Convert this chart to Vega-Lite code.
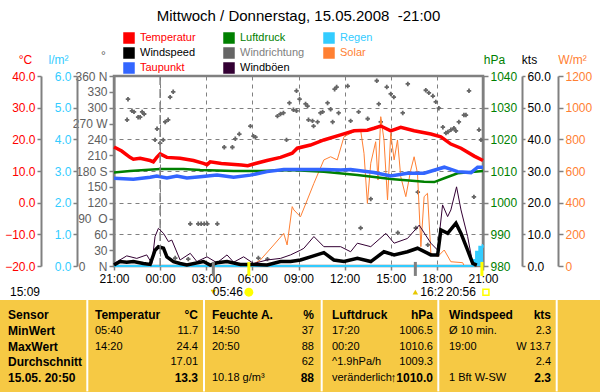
{
"$schema": "https://vega.github.io/schema/vega-lite/v6.json",
"width": 369, "height": 190,
"autosize": {"type": "none"},
"padding": {"left": 114, "top": 76, "right": 117, "bottom": 126},
"background": "#FFFFFF",
"title": {"text": "Mittwoch / Donnerstag, 15.05.2008\u00a0\u00a0-21:00", "anchor": "middle", "frame": "group", "fontSize": 15, "fontWeight": "normal", "font": "Liberation Sans", "offset": 8, "color": "#000000"},
"config": {
  "font": "Liberation Sans",
  "view": {"stroke": "#808080", "strokeWidth": 2.5},
  "axis": {"labelFont": "Liberation Sans", "labelFontSize": 12, "titleFont": "Liberation Sans", "titleFontSize": 12, "titleFontWeight": "normal", "domainColor": "#808080", "domainWidth": 2, "tickColor": "#808080", "tickWidth": 1.5, "grid": false, "labelFlush": false, "labelOverlap": false}
},
"datasets": {
  "series": [
    {"s":"Temperatur","h":0,"v":17.6},{"s":"Temperatur","h":0.5,"v":16.3},{"s":"Temperatur","h":1.04,"v":14.3},{"s":"Temperatur","h":1.26,"v":13.7},{"s":"Temperatur","h":1.7,"v":14.0},{"s":"Temperatur","h":2.35,"v":13.3},{"s":"Temperatur","h":2.56,"v":12.9},{"s":"Temperatur","h":2.78,"v":14.3},{"s":"Temperatur","h":3.0,"v":15.4},{"s":"Temperatur","h":3.44,"v":14.3},{"s":"Temperatur","h":4.3,"v":14.0},{"s":"Temperatur","h":5.17,"v":13.3},{"s":"Temperatur","h":5.82,"v":12.4},{"s":"Temperatur","h":6.05,"v":12.0},{"s":"Temperatur","h":6.26,"v":12.9},{"s":"Temperatur","h":6.98,"v":12.4},{"s":"Temperatur","h":8.28,"v":11.9},{"s":"Temperatur","h":8.7,"v":11.7},{"s":"Temperatur","h":9.08,"v":12.2},{"s":"Temperatur","h":9.95,"v":13.3},{"s":"Temperatur","h":10.83,"v":14.3},{"s":"Temperatur","h":11.59,"v":15.6},{"s":"Temperatur","h":11.92,"v":17.2},{"s":"Temperatur","h":12.78,"v":18.2},{"s":"Temperatur","h":13.65,"v":19.8},{"s":"Temperatur","h":14.74,"v":21.4},{"s":"Temperatur","h":15.61,"v":22.7},{"s":"Temperatur","h":16.48,"v":22.9},{"s":"Temperatur","h":16.91,"v":23.5},{"s":"Temperatur","h":17.35,"v":24.2},{"s":"Temperatur","h":18.0,"v":22.7},{"s":"Temperatur","h":18.65,"v":23.8},{"s":"Temperatur","h":19.52,"v":22.7},{"s":"Temperatur","h":20.61,"v":21.7},{"s":"Temperatur","h":21.26,"v":20.8},{"s":"Temperatur","h":21.91,"v":18.5},{"s":"Temperatur","h":22.57,"v":17.2},{"s":"Temperatur","h":23.43,"v":14.7},{"s":"Temperatur","h":24,"v":13.3},
    {"s":"Taupunkt","h":0,"v":7.7},{"s":"Taupunkt","h":1.26,"v":7.4},{"s":"Taupunkt","h":2.35,"v":8.0},{"s":"Taupunkt","h":2.78,"v":8.4},{"s":"Taupunkt","h":3.44,"v":7.8},{"s":"Taupunkt","h":4.09,"v":8.4},{"s":"Taupunkt","h":4.74,"v":7.8},{"s":"Taupunkt","h":5.61,"v":8.2},{"s":"Taupunkt","h":6.7,"v":8.7},{"s":"Taupunkt","h":7.78,"v":8.0},{"s":"Taupunkt","h":8.87,"v":8.7},{"s":"Taupunkt","h":9.96,"v":9.8},{"s":"Taupunkt","h":11.04,"v":10.5},{"s":"Taupunkt","h":12.13,"v":10.5},{"s":"Taupunkt","h":13.65,"v":10.5},{"s":"Taupunkt","h":14.74,"v":10.3},{"s":"Taupunkt","h":15.39,"v":10.5},{"s":"Taupunkt","h":16.91,"v":9.5},{"s":"Taupunkt","h":18.0,"v":8.4},{"s":"Taupunkt","h":19.09,"v":9.3},{"s":"Taupunkt","h":20.17,"v":9.3},{"s":"Taupunkt","h":21.48,"v":11.2},{"s":"Taupunkt","h":22.35,"v":9.8},{"s":"Taupunkt","h":23.22,"v":9.5},{"s":"Taupunkt","h":23.65,"v":11.2},{"s":"Taupunkt","h":24,"v":11.2},
    {"s":"Luftdruck","h":0,"v":1009.5},{"s":"Luftdruck","h":1.04,"v":1010.0},{"s":"Luftdruck","h":3.0,"v":1010.6},{"s":"Luftdruck","h":4.52,"v":1010.6},{"s":"Luftdruck","h":5.61,"v":1010.3},{"s":"Luftdruck","h":7.78,"v":1010.0},{"s":"Luftdruck","h":9.52,"v":1010.0},{"s":"Luftdruck","h":11.48,"v":1010.3},{"s":"Luftdruck","h":13.65,"v":1009.8},{"s":"Luftdruck","h":15.83,"v":1008.7},{"s":"Luftdruck","h":18.0,"v":1007.5},{"s":"Luftdruck","h":20.17,"v":1006.6},{"s":"Luftdruck","h":20.83,"v":1006.5},{"s":"Luftdruck","h":21.48,"v":1007.7},{"s":"Luftdruck","h":22.35,"v":1009.3},{"s":"Luftdruck","h":24,"v":1010.0},
    {"s":"Windspeed","h":0,"v":0.3},{"s":"Windspeed","h":0.39,"v":1.4},{"s":"Windspeed","h":0.83,"v":1.2},{"s":"Windspeed","h":1.26,"v":1.4},{"s":"Windspeed","h":1.91,"v":0.8},{"s":"Windspeed","h":2.35,"v":0.5},{"s":"Windspeed","h":2.67,"v":5.0},{"s":"Windspeed","h":2.89,"v":6.1},{"s":"Windspeed","h":3.22,"v":5.6},{"s":"Windspeed","h":3.44,"v":2.9},{"s":"Windspeed","h":3.87,"v":1.4},{"s":"Windspeed","h":4.3,"v":0.8},{"s":"Windspeed","h":4.74,"v":0.3},{"s":"Windspeed","h":5.82,"v":1.4},{"s":"Windspeed","h":6.26,"v":0.3},{"s":"Windspeed","h":6.7,"v":1.0},{"s":"Windspeed","h":7.35,"v":1.4},{"s":"Windspeed","h":8.22,"v":0.5},{"s":"Windspeed","h":9.08,"v":0.5},{"s":"Windspeed","h":9.96,"v":0.3},{"s":"Windspeed","h":10.83,"v":1.4},{"s":"Windspeed","h":11.48,"v":1.4},{"s":"Windspeed","h":12.13,"v":1.9},{"s":"Windspeed","h":12.78,"v":2.9},{"s":"Windspeed","h":13.65,"v":4.2},{"s":"Windspeed","h":14.3,"v":1.9},{"s":"Windspeed","h":14.96,"v":1.4},{"s":"Windspeed","h":15.83,"v":2.4},{"s":"Windspeed","h":16.7,"v":1.4},{"s":"Windspeed","h":17.56,"v":4.5},{"s":"Windspeed","h":18.22,"v":3.5},{"s":"Windspeed","h":19.09,"v":4.5},{"s":"Windspeed","h":19.74,"v":5.6},{"s":"Windspeed","h":20.61,"v":3.5},{"s":"Windspeed","h":21.05,"v":3.5},{"s":"Windspeed","h":21.26,"v":11.4},{"s":"Windspeed","h":21.7,"v":10.3},{"s":"Windspeed","h":22.24,"v":13.5},{"s":"Windspeed","h":22.57,"v":10.3},{"s":"Windspeed","h":23.0,"v":5.0},{"s":"Windspeed","h":23.33,"v":0.8},{"s":"Windspeed","h":23.6,"v":0.3},
    {"s":"Windböen","h":0,"v":0.8},{"s":"Windböen","h":0.83,"v":3.2},{"s":"Windböen","h":1.48,"v":2.4},{"s":"Windböen","h":2.13,"v":3.5},{"s":"Windböen","h":2.46,"v":0.8},{"s":"Windböen","h":2.67,"v":9.3},{"s":"Windböen","h":2.89,"v":11.9},{"s":"Windböen","h":3.22,"v":10.3},{"s":"Windböen","h":3.54,"v":7.7},{"s":"Windböen","h":3.76,"v":8.2},{"s":"Windböen","h":4.3,"v":1.9},{"s":"Windböen","h":4.96,"v":4.0},{"s":"Windböen","h":5.39,"v":1.4},{"s":"Windböen","h":6.05,"v":2.9},{"s":"Windböen","h":6.7,"v":1.0},{"s":"Windböen","h":7.35,"v":3.5},{"s":"Windböen","h":7.78,"v":1.2},{"s":"Windböen","h":8.43,"v":2.9},{"s":"Windböen","h":9.08,"v":0.8},{"s":"Windböen","h":9.96,"v":1.9},{"s":"Windböen","h":10.83,"v":2.4},{"s":"Windböen","h":11.48,"v":3.5},{"s":"Windböen","h":12.13,"v":5.0},{"s":"Windböen","h":12.35,"v":5.6},{"s":"Windböen","h":13.0,"v":9.3},{"s":"Windböen","h":13.65,"v":6.1},{"s":"Windböen","h":14.74,"v":6.1},{"s":"Windböen","h":15.39,"v":4.5},{"s":"Windböen","h":15.83,"v":7.2},{"s":"Windböen","h":16.7,"v":6.1},{"s":"Windböen","h":17.68,"v":10.3},{"s":"Windböen","h":18.22,"v":7.2},{"s":"Windböen","h":19.09,"v":8.7},{"s":"Windböen","h":19.85,"v":12.9},{"s":"Windböen","h":20.61,"v":7.2},{"s":"Windböen","h":21.05,"v":5.0},{"s":"Windböen","h":21.37,"v":19.3},{"s":"Windböen","h":21.7,"v":15.6},{"s":"Windböen","h":21.91,"v":17.7},{"s":"Windböen","h":22.28,"v":25.0},{"s":"Windböen","h":22.57,"v":17.7},{"s":"Windböen","h":23.0,"v":9.3},{"s":"Windböen","h":23.33,"v":0.8},
    {"s":"Solar","h":8.87,"v":0},{"s":"Solar","h":9.52,"v":38},{"s":"Solar","h":10.39,"v":133},{"s":"Solar","h":11.04,"v":206},{"s":"Solar","h":11.26,"v":133},{"s":"Solar","h":11.59,"v":375},{"s":"Solar","h":11.7,"v":354},{"s":"Solar","h":12.13,"v":311},{"s":"Solar","h":12.57,"v":417},{"s":"Solar","h":13.0,"v":522},{"s":"Solar","h":13.65,"v":670},{"s":"Solar","h":14.09,"v":690},{"s":"Solar","h":14.52,"v":670},{"s":"Solar","h":14.96,"v":817},{"s":"Solar","h":15.61,"v":848},{"s":"Solar","h":16.04,"v":859},{"s":"Solar","h":16.26,"v":712},{"s":"Solar","h":16.48,"v":396},{"s":"Solar","h":16.7,"v":649},{"s":"Solar","h":17.02,"v":785},{"s":"Solar","h":17.17,"v":543},{"s":"Solar","h":17.35,"v":943},{"s":"Solar","h":17.56,"v":796},{"s":"Solar","h":17.79,"v":417},{"s":"Solar","h":18.0,"v":838},{"s":"Solar","h":18.22,"v":670},{"s":"Solar","h":18.44,"v":796},{"s":"Solar","h":18.65,"v":564},{"s":"Solar","h":18.98,"v":438},{"s":"Solar","h":19.3,"v":606},{"s":"Solar","h":19.52,"v":690},{"s":"Solar","h":19.74,"v":585},{"s":"Solar","h":19.96,"v":122},{"s":"Solar","h":20.17,"v":438},{"s":"Solar","h":20.39,"v":459},{"s":"Solar","h":20.61,"v":80},{"s":"Solar","h":21.05,"v":59},{"s":"Solar","h":21.48,"v":101},{"s":"Solar","h":21.91,"v":27},{"s":"Solar","h":22.68,"v":21},{"s":"Solar","h":22.78,"v":0},
    {"s":"Regen","h":0,"v":0},{"s":"Regen","h":23.3,"v":0},{"s":"Regen","h":23.35,"v":0.19},{"s":"Regen","h":23.55,"v":0.45},{"s":"Regen","h":23.76,"v":0.61},{"s":"Regen","h":23.98,"v":0.66},{"s":"Regen","h":24,"v":0.66}
  ],
  "dir": [
    {"h":0.91,"d":316},{"h":0.85,"d":277},{"h":1.17,"d":294},{"h":1.3,"d":292},{"h":1.57,"d":282},{"h":1.7,"d":282},{"h":1.83,"d":292},{"h":1.96,"d":288},{"h":2.8,"d":260},{"h":2.67,"d":239},{"h":3.0,"d":233},{"h":3.2,"d":239},{"h":3.33,"d":273},{"h":3.52,"d":277},{"h":3.65,"d":320},{"h":3.85,"d":330},{"h":3.98,"d":15},{"h":4.83,"d":13},{"h":4.96,"d":80},{"h":5.48,"d":80},{"h":5.67,"d":80},{"h":5.87,"d":80},{"h":6.07,"d":80},{"h":6.72,"d":80},{"h":7.17,"d":225},{"h":7.7,"d":225},{"h":7.89,"d":241},{"h":8.15,"d":250},{"h":8.87,"d":265},{"h":9.07,"d":246},{"h":9.2,"d":244},{"h":9.39,"d":15},{"h":9.98,"d":13},{"h":10.63,"d":284},{"h":10.83,"d":288},{"h":11.02,"d":290},{"h":11.22,"d":239},{"h":11.41,"d":309},{"h":11.67,"d":296},{"h":11.87,"d":294},{"h":11.87,"d":332},{"h":12.07,"d":316},{"h":12.46,"d":307},{"h":12.59,"d":303},{"h":12.65,"d":277},{"h":12.91,"d":275},{"h":12.98,"d":265},{"h":13.24,"d":273},{"h":13.43,"d":290},{"h":13.57,"d":292},{"h":13.89,"d":309},{"h":14.09,"d":297},{"h":14.22,"d":273},{"h":14.35,"d":335},{"h":14.48,"d":339},{"h":14.61,"d":290},{"h":15.2,"d":341},{"h":15.39,"d":275},{"h":15.91,"d":292},{"h":16.04,"d":72},{"h":16.5,"d":279},{"h":16.7,"d":127},{"h":17.09,"d":351},{"h":17.22,"d":307},{"h":17.35,"d":273},{"h":17.74,"d":339},{"h":18.0,"d":326},{"h":18.2,"d":320},{"h":18.46,"d":63},{"h":18.78,"d":290},{"h":19.11,"d":345},{"h":19.63,"d":72},{"h":19.76,"d":140},{"h":20.28,"d":333},{"h":20.41,"d":40},{"h":20.48,"d":328},{"h":20.74,"d":322},{"h":20.93,"d":311},{"h":21.13,"d":299},{"h":21.39,"d":263},{"h":21.59,"d":252},{"h":21.72,"d":254},{"h":21.91,"d":258},{"h":22.11,"d":261},{"h":22.24,"d":256},{"h":22.43,"d":273},{"h":22.76,"d":286},{"h":22.89,"d":286},{"h":23.09,"d":332},{"h":23.41,"d":131},{"h":23.74,"d":258},{"h":23.87,"d":239}
  ],
  "events": [
    {"ev":"moonset","h":6.46,"label":""},
    {"ev":"sunrise","h":8.77,"label":"05:46"},
    {"ev":"moonrise","h":19.6,"label":"16:2"},
    {"ev":"sunset","h":23.93,"label":"20:56"}
  ],
  "cols": [
    {"c":1},{"c":2},{"c":3},{"c":4},{"c":5}
  ],
  "table": [
    {"c":0,"r":0,"k":"L","t":"Sensor"},{"c":0,"r":1,"k":"L","t":"MinWert"},{"c":0,"r":2,"k":"L","t":"MaxWert"},{"c":0,"r":3,"k":"L","t":"Durchschnitt"},{"c":0,"r":4,"k":"L","t":"15.05. 20:50"},
    {"c":1,"r":0,"k":"L","t":"Temperatur"},{"c":1,"r":1,"k":"L","t":"05:40"},{"c":1,"r":2,"k":"L","t":"14:20"},
    {"c":1,"r":0,"k":"R","t":"°C"},{"c":1,"r":1,"k":"R","t":"11.7"},{"c":1,"r":2,"k":"R","t":"24.4"},{"c":1,"r":3,"k":"R","t":"17.01"},{"c":1,"r":4,"k":"R","t":"13.3"},
    {"c":2,"r":0,"k":"L","t":"Feuchte A."},{"c":2,"r":1,"k":"L","t":"14:50"},{"c":2,"r":2,"k":"L","t":"20:50"},{"c":2,"r":4,"k":"L","t":"10.18 g/m³"},
    {"c":2,"r":0,"k":"R","t":"%"},{"c":2,"r":1,"k":"R","t":"37"},{"c":2,"r":2,"k":"R","t":"88"},{"c":2,"r":3,"k":"R","t":"62"},{"c":2,"r":4,"k":"R","t":"88"},
    {"c":3,"r":0,"k":"L","t":"Luftdruck"},{"c":3,"r":1,"k":"L","t":"17:20"},{"c":3,"r":2,"k":"L","t":"00:20"},{"c":3,"r":3,"k":"L","t":"^1.9hPa/h"},{"c":3,"r":4,"k":"L","t":"veränderlich"},
    {"c":3,"r":0,"k":"R","t":"hPa"},{"c":3,"r":1,"k":"R","t":"1006.5"},{"c":3,"r":2,"k":"R","t":"1010.6"},{"c":3,"r":3,"k":"R","t":"1009.3"},{"c":3,"r":4,"k":"R","t":"↑1010.0"},
    {"c":4,"r":0,"k":"L","t":"Windspeed"},{"c":4,"r":1,"k":"L","t":"Ø 10 min."},{"c":4,"r":2,"k":"L","t":"19:00"},{"c":4,"r":4,"k":"L","t":"1 Bft W-SW"},
    {"c":4,"r":0,"k":"R","t":"kts"},{"c":4,"r":1,"k":"R","t":"2.3"},{"c":4,"r":2,"k":"R","t":"W 13.7"},{"c":4,"r":3,"k":"R","t":"2.4"},{"c":4,"r":4,"k":"R","t":"2.3"}
  ]
},
"resolve": {"scale": {"x": "independent", "y": "independent"}, "axis": {"x": "independent", "y": "independent"}},
"layer": [
  {
    "data": {"name": "dir"},
    "mark": {"type": "point", "shape": "cross", "filled": true, "size": 20, "opacity": 1},
    "encoding": {
      "x": {"field": "h", "type": "quantitative", "scale": {"domain": [0, 24], "nice": false, "zero": false}, "axis": null},
      "y": {"field": "d", "type": "quantitative", "scale": {"domain": [0, 360], "nice": false, "zero": false},
        "axis": {"orient": "left", "offset": 0, "values": [0,30,60,90,120,150,180,210,240,270,300,330,360],
          "labelExpr": "datum.value == 360 ? '360 N' : datum.value == 0 ? '0\u00a0\u00a0\u00a0\u00a0N' : datum.value == 90 ? '90\u00a0\u00a0O' : datum.value == 180 ? '180 S' : datum.value == 270 ? '270 W' : datum.label",
          "labelColor": "#606060", "tickSize": 5, "labelPadding": 2,
          "title": "°", "titleColor": "#606060", "titleAngle": 0, "titleAlign": "center", "titleBaseline": "bottom", "titleX": -11, "titleY": -14}},
      "color": {"datum": "Windrichtung", "type": "nominal"}
    }
  },
  {
    "data": {"name": "series"},
    "transform": [{"filter": "datum.s == 'Solar'"}],
    "mark": {"type": "line", "strokeWidth": 1},
    "encoding": {
      "x": {"field": "h", "type": "quantitative", "scale": {"domain": [0, 24], "nice": false, "zero": false}, "axis": null},
      "y": {"field": "v", "type": "quantitative", "scale": {"domain": [0, 1200], "nice": false, "zero": false},
        "axis": {"orient": "right", "offset": 75, "values": [0,200,400,600,800,1000,1200], "format": "d", "labelColor": "#FF8033", "tickSize": 5, "labelPadding": 2,
          "title": "W/m²", "titleColor": "#FF8033", "titleAngle": 0, "titleAlign": "center", "titleBaseline": "bottom", "titleX": 14, "titleY": -10}},
      "color": {"datum": "Solar", "type": "nominal"}
    }
  },
  {
    "data": {"name": "series"},
    "transform": [{"filter": "datum.s == 'Windböen'"}],
    "mark": {"type": "line", "strokeWidth": 1},
    "encoding": {
      "x": {"field": "h", "type": "quantitative", "scale": {"domain": [0, 24], "nice": false, "zero": false}, "axis": null},
      "y": {"field": "v", "type": "quantitative", "scale": {"domain": [0, 60], "nice": false, "zero": false}, "axis": null},
      "color": {"datum": "Windböen", "type": "nominal"}
    }
  },
  {
    "data": {"name": "series"},
    "transform": [{"filter": "datum.s == 'Regen'"}],
    "mark": {"type": "area", "interpolate": "step-after", "opacity": 1, "line": {"strokeWidth": 2}},
    "encoding": {
      "x": {"field": "h", "type": "quantitative", "scale": {"domain": [0, 24], "nice": false, "zero": false}, "axis": null},
      "y": {"field": "v", "type": "quantitative", "scale": {"domain": [0, 6], "nice": false, "zero": false},
        "axis": {"orient": "left", "offset": 37, "values": [0,1,2,3,4,5,6], "format": ".1f", "labelColor": "#33CCFF", "tickSize": 4, "labelPadding": 2,
          "title": "l/m²", "titleColor": "#33CCFF", "titleAngle": 0, "titleAlign": "center", "titleBaseline": "bottom", "titleX": -19, "titleY": -10}},
      "color": {"datum": "Regen", "type": "nominal"}
    }
  },
  {
    "data": {"name": "series"},
    "transform": [{"filter": "datum.s == 'Windspeed'"}],
    "mark": {"type": "line", "strokeWidth": 3.5},
    "encoding": {
      "x": {"field": "h", "type": "quantitative", "scale": {"domain": [0, 24], "nice": false, "zero": false}, "axis": null},
      "y": {"field": "v", "type": "quantitative", "scale": {"domain": [0, 60], "nice": false, "zero": false},
        "axis": {"orient": "right", "offset": 39, "values": [0,10,20,30,40,50,60], "format": ".1f", "labelColor": "#000000", "tickSize": 3, "labelPadding": 2,
          "title": "kts", "titleColor": "#000000", "titleAngle": 0, "titleAlign": "center", "titleBaseline": "bottom", "titleX": 7, "titleY": -10}},
      "color": {"datum": "Windspeed", "type": "nominal"}
    }
  },
  {
    "data": {"name": "series"},
    "transform": [{"filter": "datum.s == 'Luftdruck'"}],
    "mark": {"type": "line", "strokeWidth": 2.5},
    "encoding": {
      "x": {"field": "h", "type": "quantitative", "scale": {"domain": [0, 24], "nice": false, "zero": false}, "axis": null},
      "y": {"field": "v", "type": "quantitative", "scale": {"domain": [980, 1040], "nice": false, "zero": false},
        "axis": {"orient": "right", "offset": 0, "values": [980,990,1000,1010,1020,1030,1040], "format": "d", "labelColor": "#008000", "tickSize": 5, "labelPadding": 2,
          "grid": true, "gridDash": [4, 4], "gridColor": "#808080", "gridWidth": 1,
          "title": "hPa", "titleColor": "#008000", "titleAngle": 0, "titleAlign": "center", "titleBaseline": "bottom", "titleX": 11, "titleY": -10}},
      "color": {"datum": "Luftdruck", "type": "nominal"}
    }
  },
  {
    "data": {"name": "series"},
    "transform": [{"filter": "datum.s == 'Taupunkt'"}],
    "mark": {"type": "line", "strokeWidth": 3.5},
    "encoding": {
      "x": {"field": "h", "type": "quantitative", "scale": {"domain": [0, 24], "nice": false, "zero": false}, "axis": null},
      "y": {"field": "v", "type": "quantitative", "scale": {"domain": [-20, 40], "nice": false, "zero": false}, "axis": null},
      "color": {"datum": "Taupunkt", "type": "nominal"}
    }
  },
  {
    "data": {"name": "series"},
    "transform": [{"filter": "datum.s == 'Temperatur'"}],
    "mark": {"type": "line", "strokeWidth": 3.5},
    "encoding": {
      "x": {"field": "h", "type": "quantitative", "scale": {"domain": [0, 24], "nice": false, "zero": false},
        "axis": {"orient": "bottom", "values": [0,3,6,9,12,15,18,21,24], "labelExpr": "format((datum.value + 21) % 24, '02d') + ':00'",
          "labelColor": "#000000", "tickSize": 4, "labelPadding": 3, "title": null, "domain": false,
          "grid": true, "gridDash": [4, 4], "gridColor": "#808080", "gridWidth": 1}},
      "y": {"field": "v", "type": "quantitative", "scale": {"domain": [-20, 40], "nice": false, "zero": false},
        "axis": {"orient": "left", "offset": 73, "values": [-20,-10,0,10,20,30,40], "format": ".1f", "labelColor": "#FF0000", "tickSize": 4, "labelPadding": 2,
          "title": "°C", "titleColor": "#FF0000", "titleAngle": 0, "titleAlign": "center", "titleBaseline": "bottom", "titleX": -16, "titleY": -10}},
      "color": {"datum": "Temperatur", "type": "nominal",
        "scale": {"domain": ["Temperatur","Luftdruck","Regen","Windspeed","Windrichtung","Solar","Taupunkt","Windböen"],
                  "range": ["#FF0000","#008000","#33CCFF","#000000","#666666","#FF8033","#3366FF","#330033"]},
        "legend": {"orient": "none", "legendX": 9, "legendY": -44, "columns": 3, "direction": "horizontal", "gridAlign": "all", "columnPadding": 16, "rowPadding": -1, "padding": 0,
          "title": null, "symbolType": "square", "symbolSize": 100, "symbolStrokeWidth": 1.5, "labelFontSize": 11, "labelFont": "Liberation Sans", "labelOffset": 5,
          "encode": {
            "symbols": {"update": {"fill": {"scale": "color", "field": "value"}, "stroke": {"value": "#000000"}, "strokeWidth": {"value": 1.5}, "shape": {"value": "square"}, "opacity": {"value": 1}, "size": {"value": 100}}},
            "labels": {"update": {"fill": {"signal": "datum.value === 'Temperatur' || datum.value === 'Taupunkt' ? '#FF0000' : datum.value === 'Luftdruck' ? '#008000' : datum.value === 'Regen' ? '#33CCFF' : datum.value === 'Solar' ? '#FF8033' : datum.value === 'Windrichtung' ? '#808080' : '#000000'"}}}
          }}}
    }
  },
  {
    "data": {"values": [{"h": 3}]},
    "mark": {"type": "rule", "strokeDash": [9, 4], "strokeWidth": 1.5, "color": "#808080"},
    "encoding": {
      "x": {"field": "h", "type": "quantitative", "scale": {"domain": [0, 24], "nice": false, "zero": false}, "axis": null}
    }
  },
  {
    "data": {"values": [{}]},
    "mark": {"type": "rect", "color": "#F6C944"},
    "encoding": {
      "x": {"datum": 0, "type": "quantitative", "scale": {"domain": [0,1,2,3,4,5,6], "range": [-114,-26.7,90,207.7,324.3,442.7,486], "nice": false, "zero": false}, "axis": null},
      "x2": {"datum": 6},
      "y": {"datum": -0.95, "type": "quantitative", "scale": {"domain": [0, 4], "range": [239, 302], "nice": false, "zero": false}, "axis": null},
      "y2": {"datum": 4.95}
    }
  },
  {
    "data": {"name": "cols"},
    "mark": {"type": "rule", "color": "#FFFFFF", "strokeWidth": 2},
    "encoding": {
      "x": {"field": "c", "type": "quantitative", "scale": {"domain": [0,1,2,3,4,5,6], "range": [-114,-26.7,90,207.7,324.3,442.7,486], "nice": false, "zero": false}, "axis": null},
      "y": {"datum": -0.95, "type": "quantitative", "scale": {"domain": [0, 4], "range": [239, 302], "nice": false, "zero": false}, "axis": null},
      "y2": {"datum": 4.85}
    }
  },
  {
    "data": {"name": "events"},
    "mark": {"type": "rule", "strokeWidth": 3},
    "encoding": {
      "x": {"field": "h", "type": "quantitative", "scale": {"domain": [0, 24], "nice": false, "zero": false}, "axis": null},
      "y": {"datum": -3.37, "type": "quantitative", "scale": {"domain": [0, 4], "range": [239, 302], "nice": false, "zero": false}, "axis": null},
      "y2": {"datum": -2.48},
      "color": {"condition": {"test": "datum.ev == 'sunrise' || datum.ev == 'sunset'", "value": "#FFFF00"}, "value": "#808080"}
    }
  },
  {
    "data": {"name": "events"},
    "transform": [{"filter": "datum.ev == 'sunrise'"}],
    "mark": {"type": "point", "shape": "circle", "filled": true, "size": 80, "color": "#FFFF00", "opacity": 1},
    "encoding": {
      "x": {"field": "h", "type": "quantitative", "scale": {"domain": [0, 24], "nice": false, "zero": false}, "axis": null},
      "y": {"datum": -1.45, "type": "quantitative", "scale": {"domain": [0, 4], "range": [239, 302], "nice": false, "zero": false}, "axis": null}
    }
  },
  {
    "data": {"name": "events"},
    "transform": [{"filter": "datum.ev == 'sunset'"}],
    "mark": {"type": "point", "shape": "square", "filled": false, "size": 36, "color": "#FFFF00", "strokeWidth": 1.5, "opacity": 1, "xOffset": 4},
    "encoding": {
      "x": {"field": "h", "type": "quantitative", "scale": {"domain": [0, 24], "nice": false, "zero": false}, "axis": null},
      "y": {"datum": -1.45, "type": "quantitative", "scale": {"domain": [0, 4], "range": [239, 302], "nice": false, "zero": false}, "axis": null}
    }
  },
  {
    "data": {"name": "events"},
    "transform": [{"filter": "datum.ev == 'moonrise' || datum.ev == 'moonset'"}],
    "mark": {"type": "point", "filled": true, "size": 30, "color": "#E8C800", "opacity": 1},
    "encoding": {
      "x": {"field": "h", "type": "quantitative", "scale": {"domain": [0, 24], "nice": false, "zero": false}, "axis": null},
      "y": {"datum": -1.45, "type": "quantitative", "scale": {"domain": [0, 4], "range": [239, 302], "nice": false, "zero": false}, "axis": null},
      "shape": {"condition": {"test": "datum.ev == 'moonrise'", "value": "triangle-up"}, "value": "triangle-down"}
    }
  },
  {
    "data": {"name": "events"},
    "transform": [{"filter": "datum.ev == 'sunrise' || datum.ev == 'sunset'"}],
    "mark": {"type": "text", "align": "right", "baseline": "middle", "fontSize": 12, "dx": -6, "color": "#000000"},
    "encoding": {
      "x": {"field": "h", "type": "quantitative", "scale": {"domain": [0, 24], "nice": false, "zero": false}, "axis": null},
      "y": {"datum": -1.45, "type": "quantitative", "scale": {"domain": [0, 4], "range": [239, 302], "nice": false, "zero": false}, "axis": null},
      "text": {"field": "label"}
    }
  },
  {
    "data": {"name": "events"},
    "transform": [{"filter": "datum.ev == 'moonrise'"}],
    "mark": {"type": "text", "align": "left", "baseline": "middle", "fontSize": 12, "dx": 5, "color": "#000000"},
    "encoding": {
      "x": {"field": "h", "type": "quantitative", "scale": {"domain": [0, 24], "nice": false, "zero": false}, "axis": null},
      "y": {"datum": -1.45, "type": "quantitative", "scale": {"domain": [0, 4], "range": [239, 302], "nice": false, "zero": false}, "axis": null},
      "text": {"field": "label"}
    }
  },
  {
    "data": {"values": [{"c": 0, "t": "15:09"}]},
    "mark": {"type": "text", "align": "left", "baseline": "middle", "fontSize": 12, "dx": 2, "color": "#000000"},
    "encoding": {
      "x": {"field": "c", "type": "quantitative", "scale": {"domain": [0,1,2,3,4], "range": [-106,-19,98,218,335], "nice": false, "zero": false}, "axis": null},
      "y": {"datum": -1.45, "type": "quantitative", "scale": {"domain": [0, 4], "range": [239, 302], "nice": false, "zero": false}, "axis": null},
      "text": {"field": "t"}
    }
  },
  {
    "data": {"name": "table"},
    "transform": [{"filter": "datum.k == 'L' && (datum.r == 0 || datum.c == 0)"}],
    "mark": {"type": "text", "align": "left", "baseline": "middle", "fontSize": 12, "fontWeight": "bold", "color": "#000000"},
    "encoding": {
      "x": {"field": "c", "type": "quantitative", "scale": {"domain": [0,1,2,3,4], "range": [-106,-19,98,218,335], "nice": false, "zero": false}, "axis": null},
      "y": {"field": "r", "type": "quantitative", "scale": {"domain": [0, 4], "range": [239, 302], "nice": false, "zero": false}, "axis": null},
      "text": {"field": "t"}
    }
  },
  {
    "data": {"name": "table"},
    "transform": [{"filter": "datum.k == 'L' && datum.r > 0 && datum.c > 0"}],
    "mark": {"type": "text", "align": "left", "baseline": "middle", "fontSize": 11, "color": "#000000"},
    "encoding": {
      "x": {"field": "c", "type": "quantitative", "scale": {"domain": [0,1,2,3,4], "range": [-106,-19,98,218,335], "nice": false, "zero": false}, "axis": null},
      "y": {"field": "r", "type": "quantitative", "scale": {"domain": [0, 4], "range": [239, 302], "nice": false, "zero": false}, "axis": null},
      "text": {"field": "t"}
    }
  },
  {
    "data": {"name": "table"},
    "transform": [{"filter": "datum.k == 'R' && (datum.r == 0 || datum.r == 4)"}],
    "mark": {"type": "text", "align": "right", "baseline": "middle", "fontSize": 12, "fontWeight": "bold", "color": "#000000"},
    "encoding": {
      "x": {"field": "c", "type": "quantitative", "scale": {"domain": [1,2,3,4], "range": [84,200,319,437], "nice": false, "zero": false}, "axis": null},
      "y": {"field": "r", "type": "quantitative", "scale": {"domain": [0, 4], "range": [239, 302], "nice": false, "zero": false}, "axis": null},
      "text": {"field": "t"}
    }
  },
  {
    "data": {"name": "table"},
    "transform": [{"filter": "datum.k == 'R' && datum.r > 0 && datum.r < 4"}],
    "mark": {"type": "text", "align": "right", "baseline": "middle", "fontSize": 11, "color": "#000000"},
    "encoding": {
      "x": {"field": "c", "type": "quantitative", "scale": {"domain": [1,2,3,4], "range": [84,200,319,437], "nice": false, "zero": false}, "axis": null},
      "y": {"field": "r", "type": "quantitative", "scale": {"domain": [0, 4], "range": [239, 302], "nice": false, "zero": false}, "axis": null},
      "text": {"field": "t"}
    }
  }
]
}
